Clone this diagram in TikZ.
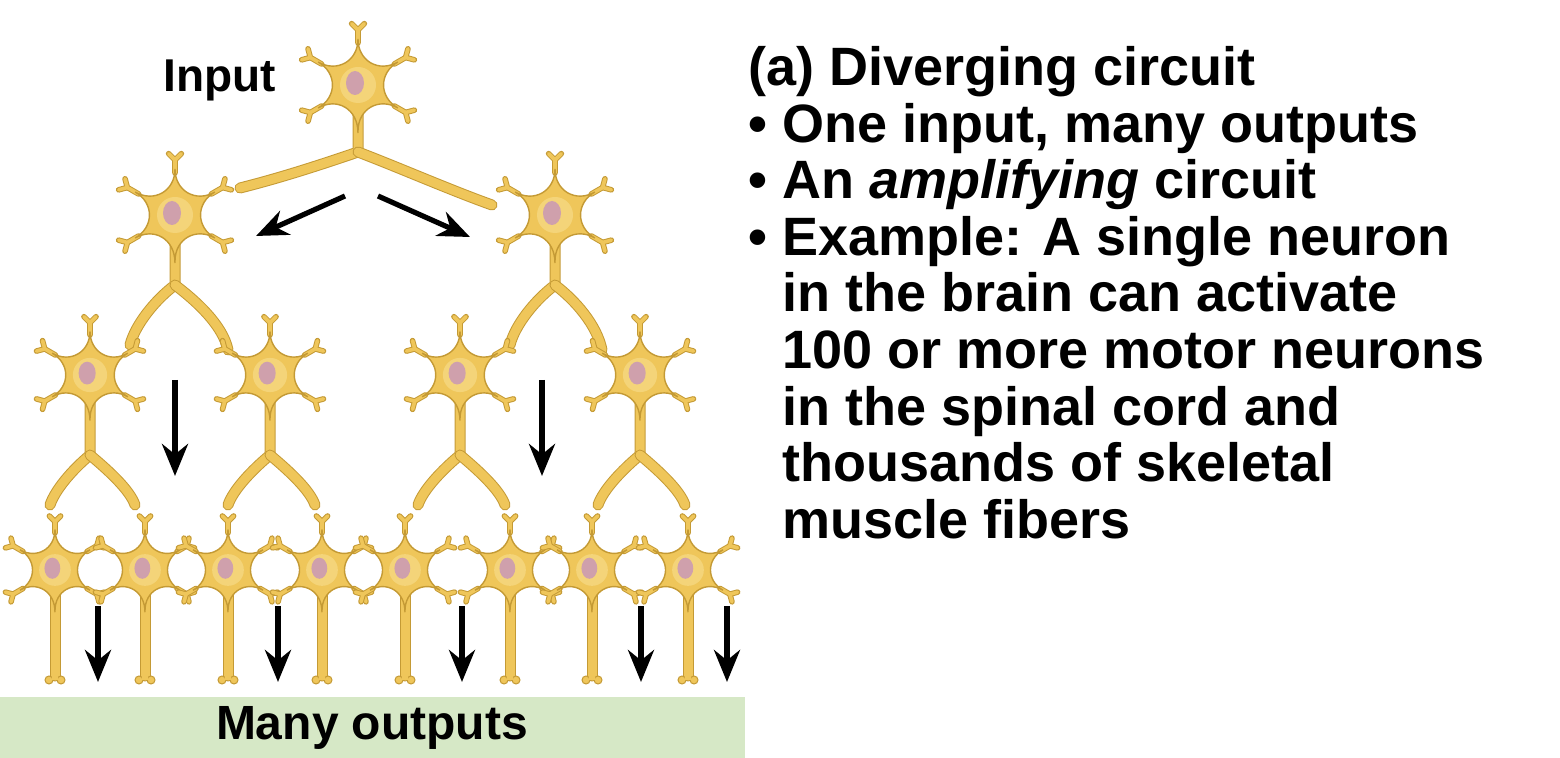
\documentclass[tikz,border=0pt]{standalone}
\usepackage{fontspec}
\setmainfont{Liberation Sans}
\usetikzlibrary{arrows.meta}
\definecolor{gold}{HTML}{EFC65A}
\definecolor{goldd}{HTML}{C49A35}
\definecolor{goldl}{HTML}{F8DE8E}
\definecolor{nuc}{HTML}{CFA0AC}
\definecolor{grn}{HTML}{D6E8C6}
\tikzset{
 axon/.style={draw=goldd,line width=0.5pt,double=gold,double distance=4.5pt,line cap=round},
 arr/.style={line width=2.6pt,-{Stealth[length=16pt,width=13pt]}},
 neuron/.pic={
  \foreach \a in {30,150,210,330,270}{
   \draw[goldd,line width=2.8pt,line cap=round] (\a:42) -- (\a:55) -- ([shift={(\a:55)}]{\a+45}:9);
   \draw[goldd,line width=2.8pt,line cap=round] (\a:55) -- ([shift={(\a:55)}]{\a-45}:9);
   \draw[gold,line width=1.8pt,line cap=round] (\a:42) -- (\a:55) -- ([shift={(\a:55)}]{\a+45}:9);
   \draw[gold,line width=1.8pt,line cap=round] (\a:55) -- ([shift={(\a:55)}]{\a-45}:9);
  }
  \filldraw[fill=gold,draw=goldd,line width=0.7pt] (90:48)
   \foreach \a in {150,210,270,330,390,450}{ .. controls ({\a-60}:24) and (\a:24) .. (\a:46)} -- cycle;
  \fill[goldl,opacity=0.6] (0,0) circle (18);
  \fill[nuc] (-3,-2) ellipse (9 and 12);
 }
}
\begin{document}
\begin{tikzpicture}[x=0.5pt,y=-0.5pt]
\useasboundingbox (0,0) rectangle (1560,758);
% axons
\draw[axon] (358,100) -- (358,152) .. controls (320,165) and (280,178) .. (240,188);
\draw[axon] (358,152) .. controls (400,168) and (450,190) .. (492,205);
\foreach \x/\l/\r in {175/130/228,555/510/602}{
 \draw[axon] (\x,240) -- (\x,285) .. controls (\x-20,300) and (\l+5,325) .. (\l,345);
 \draw[axon] (\x,285) .. controls (\x+20,300) and (\r-5,325) .. (\r,350);
}
\foreach \x/\l/\r in {90/50/135,270/228/315,460/418/505,640/598/685}{
 \draw[axon] (\x,400) -- (\x,455) .. controls (\x-18,470) and (\l+5,490) .. (\l,505);
 \draw[axon] (\x,455) .. controls (\x+18,470) and (\r-5,490) .. (\r,505);
}
\foreach \x in {55,145,228,322,405,510,592,688}{
 \draw[axon] (\x,590) -- (\x,676);
 \draw[goldd,fill=gold,line width=0.5pt] (\x-6,680) circle (4) (\x+6,680) circle (4);
 \fill[gold] (\x-3,672) rectangle (\x+3,680);
}
% neurons
\pic at (358,85) {neuron};
\pic at (175,215) {neuron};
\pic at (555,215) {neuron};
\foreach \x in {90,270,460,640} \pic[scale=0.95] at (\x,375) {neuron};
\foreach \x in {55,145,228,322,405,510,592,688} \pic[scale=0.88] at (\x,570) {neuron};
% arrows
\coordinate (a1s) at (345,196); \coordinate (a1e) at (256,236);
\coordinate (a2s) at (378,196); \coordinate (a2e) at (470,237);
\draw[arr] (a1s) -- (a1e);
\draw[arr] (a2s) -- (a2e);
\foreach \x in {175,542}{\coordinate (v\x s) at (\x,380); \coordinate (v\x e) at (\x,476); \draw[arr] (v\x s) -- (v\x e);}
\foreach \x in {98,278,462,641,727}{\coordinate (b\x s) at (\x,606); \coordinate (b\x e) at (\x,682); \draw[arr] (b\x s) -- (b\x e);}
% labels
\fill[grn] (0,697) rectangle (745,758);
\node[font=\bfseries\fontsize{24}{24}\selectfont] (out) at (372,728) {Many outputs};
\node[font=\bfseries\fontsize{23}{23}\selectfont] (in) at (220,80) {Input};
\node[anchor=north west,align=left,inner sep=0pt,font=\bfseries\fontsize{27}{28.3}\selectfont] (txt) at (748,46) {%
(a) Diverging circuit\\
\textbullet\ One input, many outputs\\
\textbullet\ An \textit{amplifying} circuit\\
\textbullet\ Example: A single neuron\\
\hphantom{\textbullet\ }in the brain can activate\\
\hphantom{\textbullet\ }100 or more motor neurons\\
\hphantom{\textbullet\ }in the spinal cord and\\
\hphantom{\textbullet\ }thousands of skeletal\\
\hphantom{\textbullet\ }muscle fibers};
\end{tikzpicture}
\end{document}
